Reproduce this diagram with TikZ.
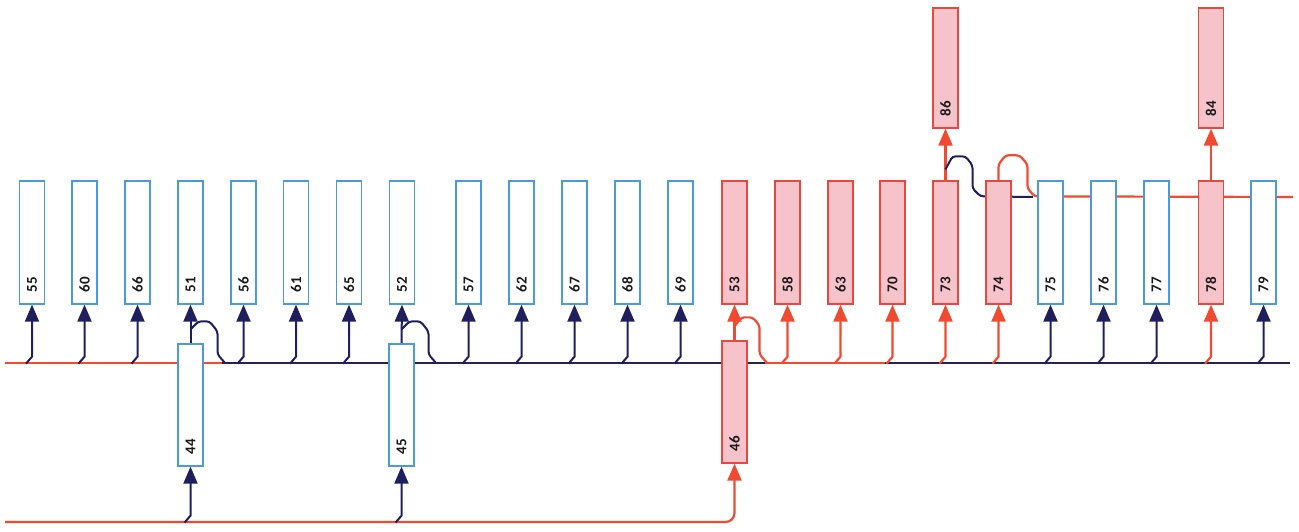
\documentclass[tikz,border=0pt]{standalone}
\usepackage{fontspec}
\setmainfont{Carlito}
\usetikzlibrary{arrows.meta}
\definecolor{navyc}{HTML}{1E1F5C}
\definecolor{navyl}{HTML}{2A2052}
\definecolor{redc}{HTML}{F24A30}
\definecolor{boxred}{HTML}{E8483E}
\definecolor{boxpink}{HTML}{F7C3CB}
\definecolor{boxblue}{HTML}{4A9BD9}
\pgfdeclarelayer{bg}
\pgfsetlayers{bg,main}
\begin{document}
\begin{tikzpicture}[x=1pt,y=-1pt,
  bbox/.style={draw=boxblue, fill=white, line width=1.3pt, minimum width=25pt, minimum height=123pt, inner sep=0pt},
  rbox/.style={bbox, draw=boxred, fill=boxpink},
  lab/.style={rotate=90, font=\bfseries\fontsize{15}{15}\selectfont, inner sep=0pt, text=black!90},
  nline/.style={draw=navyc, line width=2pt},
  mline/.style={draw=navyl, line width=2.2pt},
  rline/.style={draw=redc, line width=2.2pt},
  tip/.style={-{Triangle[width=14pt,length=17pt]}},
  loop/.style={rounded corners=3pt}
]
\useasboundingbox (0,0) rectangle (1299,532);

% top row boxes
\foreach \n/\x in {55/32,60/84.5,66/137.5,51/190.5,56/243.5,61/296,65/349,52/402,57/468.5,62/521.5,67/574.5,68/627.5,69/680.5,75/1050.5,76/1103.5,77/1156.5,79/1263.5}{
  \node[bbox] (b\n) at (\x,242.5) {};
  \node[lab] (t\n) at ([yshift=20pt]b\n.south) {\n};
}
\foreach \n/\x in {53/734.5,58/787.5,63/840.5,70/892.5,73/945.5,74/998.5,78/1211}{
  \node[rbox] (b\n) at (\x,242.5) {};
  \node[lab] (t\n) at ([yshift=20pt]b\n.south) {\n};
}
% upper boxes
\foreach \n/\x in {86/945.5,84/1211}{
  \node[rbox, minimum height=120pt] (b\n) at (\x,68) {};
  \node[lab] (t\n) at ([yshift=20pt]b\n.south) {\n};
}
% lower boxes
\foreach \n/\x in {44/190.5,45/401.5}{
  \node[bbox, minimum height=122pt] (b\n) at (\x,405) {};
  \node[lab] (t\n) at ([yshift=20pt]b\n.south) {\n};
}
\node[rbox, minimum height=122pt] (b46) at (734.5,402) {};
\node[lab] (t46) at ([yshift=20pt]b46.south) {46};

% rail coordinates
\coordinate (mA) at (5,363);
\coordinate (mB) at (222,363);
\coordinate (mC) at (765,363);
\coordinate (mD) at (885,363);
\coordinate (mE) at (1290,363);
\coordinate (tA) at (1033,197);
\coordinate (tB) at (1293,197);
\coordinate (bA) at (5,522);

\begin{pgfonlayer}{bg}
% main rails
\draw[rline] (mA) -- (mB);
\draw[mline] (mB) -- (mC);
\draw[rline] (mC) -- (mD);
\draw[mline] (mD) -- (mE);
\draw[rline, tip, rounded corners=9pt] (bA) -| (b46.south);

% feet from middle rail
\foreach \n in {55,60,66,56,61,65,57,62,67,68,69,75,76,77,79}{
  \draw[nline, tip] ([shift={(-6,59)}]b\n.south) -- ++(6,-7) -- (b\n.south);
}
\foreach \n in {58,63,70,73,74,78}{
  \draw[rline, tip] ([shift={(-6,59)}]b\n.south) -- ++(6,-7) -- (b\n.south);
}
% feet from bottom rail
\foreach \n in {44,45}{
  \draw[nline, tip] ([shift={(-6,56)}]b\n.south) -- ++(6,-7) -- (b\n.south);
}

% lower to upper
\draw[nline, tip] (b44.north) -- (b51.south);
\draw[nline, tip] (b45.north) -- (b52.south);
\draw[rline, tip] (b46.north) -- (b53.south);
\draw[rline, tip] (b73.north) -- (b86.south);
\draw[rline, tip] (b78.north) -- (b84.south);

% loops
\draw[nline, loop] ([yshift=14pt]b44.north) -- ++(8,-8) -- ++(11,0) -- ++(8,10) -- ++(0,23) -- ++(7,8);
\draw[nline, loop] ([yshift=14pt]b45.north) -- ++(8,-8) -- ++(11,0) -- ++(8,10) -- ++(0,23) -- ++(7,8);
\draw[rline, loop] ([yshift=14pt]b46.north) -- ++(7,-9) -- ++(11,0) -- ++(7,8) -- ++(0,29) -- ++(7,8);
\draw[nline, loop] ([yshift=11pt]b73.north) -- ++(7,-13) -- ++(13,0) -- ++(7,9) -- ++(0,23) -- ++(8,8) -- (tA);
\draw[rline, loop] (b74.north) -- ++(0,-16) -- ++(7,-9) -- ++(14,0) -- ++(8,9) -- ++(0,24) -- ++(7,8) -- (tB);
\end{pgfonlayer}
\end{tikzpicture}
\end{document}
